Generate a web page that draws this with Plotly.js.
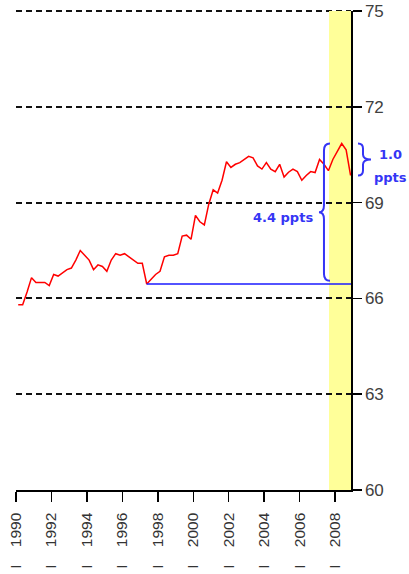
<!DOCTYPE html>
<html><head><meta charset="utf-8">
<script src="https://cdn.plot.ly/plotly-3.0.1.min.js"></script>
<style>html,body{margin:0;padding:0;background:#fff}</style>
</head><body><div id="chart" style="width:409px;height:574px"></div>
<script>
// Quarterly values, 1990 Q1 .. 2008 Q4
const startYear = 1990;
const rate = [
  65.8, 65.8, 66.2, 66.65,
  66.5, 66.5, 66.5, 66.4,
  66.75, 66.7, 66.8, 66.9,
  66.95, 67.2, 67.5, 67.35,
  67.2, 66.9, 67.05, 67.0,
  66.85, 67.2, 67.4, 67.35,
  67.4, 67.3, 67.2, 67.1,
  67.1, 66.45, 66.6, 66.75,
  66.85, 67.3, 67.35, 67.35,
  67.4, 67.95, 67.98, 67.85,
  68.6, 68.4, 68.3, 68.95,
  69.4, 69.3, 69.7, 70.28,
  70.1, 70.2, 70.25, 70.35,
  70.45, 70.4, 70.15, 70.05,
  70.25, 70.05, 69.97, 70.2,
  69.8, 69.95, 70.05, 69.97,
  69.7, 69.85, 69.97, 69.94,
  70.35, 70.2, 70.0, 70.35,
  70.6, 70.85, 70.65, 69.85
];
const tickYears = [1990, 1992, 1994, 1996, 1998, 2000, 2002, 2004, 2006, 2008];
const tickLabels = tickYears.map(y => 'I\u00a0\u00a0\u00a0\u00a0' + y);
const yTicks = [60, 63, 66, 69, 72, 75];
const shadeStart = 2007.66;
const xStart = 1990, xEnd = 2008.9;
const yMin = 60, yMax = 75;

const xs = rate.map((v, i) => startYear + i * 0.25 + 0.125);

// trough of 1997 (start of expansion), peak, last
let troughIdx = 0, best = Infinity;
xs.forEach((t, i) => { if (t > 1996 && t < 2000 && rate[i] < best) { best = rate[i]; troughIdx = i; } });
let peakIdx = 0;
rate.forEach((v, i) => { if (v > rate[peakIdx]) peakIdx = i; });
const lastIdx = rate.length - 1;
const trough = rate[troughIdx], peak = rate[peakIdx], last = rate[lastIdx];

const W = 409 - 16 - 58, H = 574 - 11 - 84;
const px = t => (t - xStart) / (xEnd - xStart);
const py = v => (v - yMin) / (yMax - yMin);

function brace(xp, y0, y1, dir, hookPx, tipPx, rPx) {
  const h = -dir * hookPx / W, tw = dir * tipPx / W, r = rPx / H;
  const ym = (y0 + y1) / 2;
  return `M${xp + h},${y1} Q${xp},${y1} ${xp},${y1 - r} L${xp},${ym + r} Q${xp},${ym} ${xp + tw},${ym} Q${xp},${ym} ${xp},${ym - r} L${xp},${y0 + r} Q${xp},${y0} ${xp + h},${y0}`;
}

const blue = '#3535f5';
const leftX = px(xs[peakIdx] - 1.0);
const leftB = brace(leftX, py(trough + 0.1), py(peak), -1, 6, 5, 7);
const rightX = 1 + 12 / W;
const rightB = brace(rightX, py(last), py(peak), 1, 5, 8, 5);

const traces = [
  {x: xs, y: rate, type: 'scatter', mode: 'lines', line: {color: '#ff0000', width: 1.5}, hoverinfo: 'skip'},
  {x: [xs[troughIdx], xEnd], y: [trough, trough], type: 'scatter', mode: 'lines', line: {color: '#1a1aff', width: 1.5}, hoverinfo: 'skip'}
];

const bfont = {family: 'DejaVu Sans', size: 13, color: blue, weight: 'bold'};
const layout = {
  width: 409, height: 574,
  margin: {l: 16, r: 58, t: 11, b: 84},
  paper_bgcolor: '#fff', plot_bgcolor: '#fff',
  showlegend: false,
  xaxis: {
    range: [xStart, xEnd], tickvals: tickYears, ticktext: tickLabels, tickangle: -90,
    showgrid: false, zeroline: false, showline: true, linecolor: '#000', linewidth: 1.5,
    ticks: 'outside', ticklen: 10, tickwidth: 1.5, tickcolor: '#000', ticklabelstandoff: 5,
    tickfont: {family: 'Liberation Sans', size: 15.5, color: '#333'}
  },
  yaxis: {
    range: [yMin, yMax], tickvals: yTicks, side: 'right',
    showgrid: true, gridcolor: '#111', gridwidth: 2, griddash: '6px,4px',
    zeroline: false, showline: true, linecolor: '#000', linewidth: 1.5,
    ticks: 'outside', ticklen: 9, tickwidth: 1.5, tickcolor: '#000',
    tickfont: {family: 'Liberation Sans', size: 17, color: '#404040'}
  },
  shapes: [
    {type: 'line', xref: 'paper', yref: 'paper', x0: 0, x1: 1, y0: 1, y1: 1, line: {color: '#111', width: 2, dash: '6px,4px'}, layer: 'below'},
    {type: 'rect', xref: 'x', yref: 'paper', x0: shadeStart, x1: xEnd, y0: 0, y1: 1, fillcolor: '#ffff99', line: {width: 0}, layer: 'below'},
    {type: 'path', xref: 'paper', yref: 'paper', path: leftB, line: {color: blue, width: 2}},
    {type: 'path', xref: 'paper', yref: 'paper', path: rightB, line: {color: blue, width: 2}}
  ],
  annotations: [
    {xref: 'paper', yref: 'paper', x: leftX - 9 / W, y: (py(trough) + py(peak)) / 2 - 4 / H, xanchor: 'right', yanchor: 'middle', showarrow: false, text: (peak - trough).toFixed(1) + ' ppts', font: bfont},
    {xref: 'paper', yref: 'paper', x: rightX + 28 / W, y: (py(last) + py(peak)) / 2 + 5 / H, xanchor: 'center', yanchor: 'middle', showarrow: false, text: (peak - last).toFixed(1), font: bfont},
    {xref: 'paper', yref: 'paper', x: rightX + 27 / W, y: (py(last) + py(peak)) / 2 - 18 / H, xanchor: 'center', yanchor: 'middle', showarrow: false, text: 'ppts', font: bfont}
  ]
};
Plotly.newPlot('chart', traces, layout, {displayModeBar: false, staticPlot: true});
</script></body></html>
